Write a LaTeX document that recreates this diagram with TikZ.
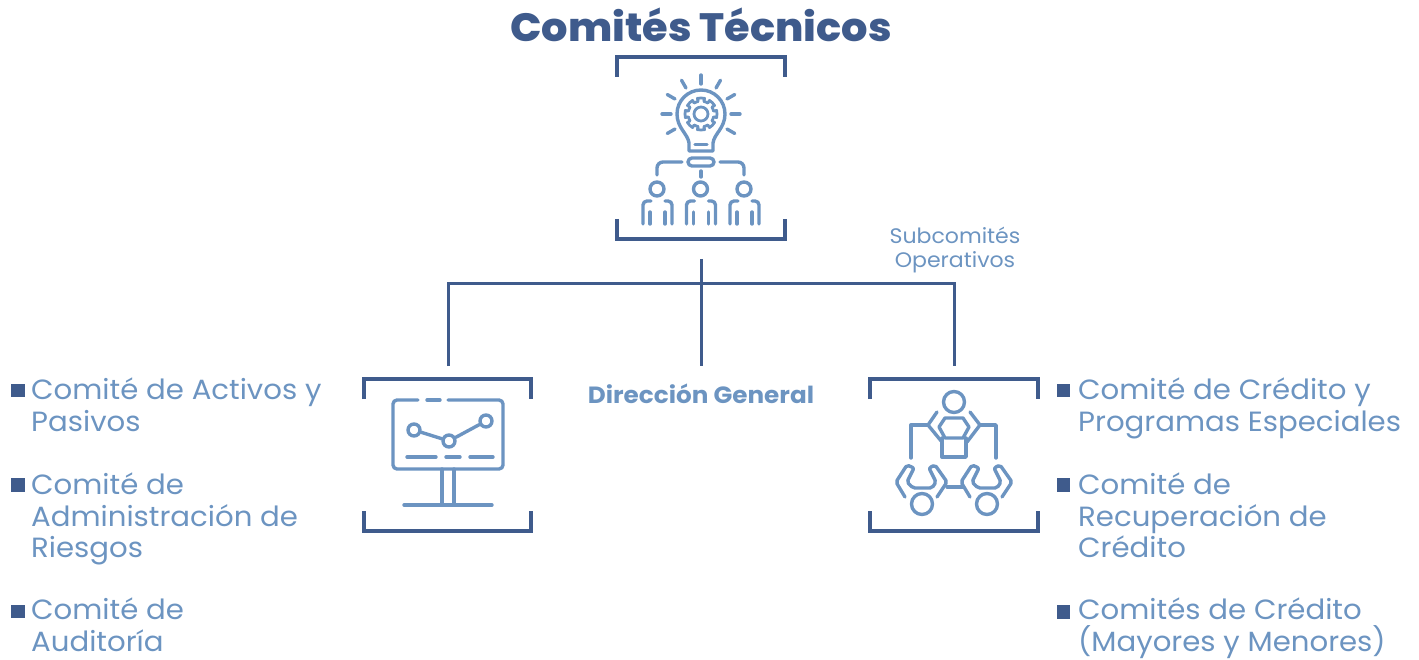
\documentclass[tikz,border=0pt]{standalone}
\usepackage{fontspec}
\setmainfont{Poppins}[FakeStretch = 1.05]
\newfontfamily\titlefont{Poppins ExtraBold}[FakeStretch = 1.05]
\definecolor{navy}{HTML}{3F5B8C}
\definecolor{steel}{HTML}{6C94C1}
\tikzset{
	frame/.style = {navy, line width = 3.6pt},
	link/.style = {navy, line width = 3pt},
	icon/.style = {steel, line width = 3.4pt, line cap = round, line join = round},
	bullet/.style = {fill = navy, minimum size = 13.5pt, inner sep = 0pt},
	item/.style = {steel, anchor = north west, inner sep = 0pt, align = left, font = \fontsize{27.8}{31.7}\selectfont},
}
\begin{document}
\begin{tikzpicture}[x = 1pt, y = -1pt]
	\useasboundingbox (0, 0) rectangle (1419, 660);

	\node[navy, inner sep = 0pt, font = \fontsize{39.5}{42}\titlefont] (title) at (701, 25) {Comités Técnicos};
	\node[steel, inner sep = 0pt, align = center, font = \fontsize{21}{24}\selectfont] (sub) at (955, 250) {Subcomités\\Operativos};
	\node[steel, inner sep = 0pt, font = \fontsize{23.5}{26}\selectfont\bfseries] (dir) at (701, 394) {Dirección General};

	% organigram
	\coordinate (top) at (701, 259);
	\coordinate (bus) at (701, 284);
	\coordinate (mid) at (701, 366);
	\coordinate (left) at (448, 366);
	\coordinate (right) at (954, 366);
	\draw[link] (top) -- (mid);
	\draw[link] (left) |- (bus) -| (right);

	% frames
	\foreach \a/\b/\t/\u in {617/785/57/239, 364/531/379/531, 870/1038/379/531} {
		\draw[frame] (\a, \t + 20) -- (\a, \t) -- (\b, \t) -- (\b, \t + 20);
		\draw[frame] (\a, \u - 20) -- (\a, \u) -- (\b, \u) -- (\b, \u - 20);
	}

	% bulb
	\draw[icon] (689, 151) -- (689, 143) .. controls (688, 134) and (677, 128) .. (677, 114)
		arc [start angle = 180, end angle = 360, radius = 24]
		.. controls (725, 128) and (714, 134) .. (713, 143) -- (713, 151) -- cycle;
	\draw[icon] (695, 144.5) -- (707, 144.5);
	\foreach \r in {30, 60, ..., 150, 0, 180, 210, 330} {
		\draw[icon] (701, 114) ++(-\r : 30) -- ++(-\r : 9);
	}
	\draw[icon, line width = 2.8pt] (701, 114) circle [radius = 7];
	\foreach \r in {0, 45, ..., 315} {
		\draw[icon, line width = 2.8pt] (701, 114) ++(\r - 13 : 13) -- ++(\r - 13 : 3) arc [start angle = \r - 13, end angle = \r + 13, radius = 16] -- ++(\r + 193 : 3);
		\draw[icon, line width = 2.8pt] (701, 114) ++(\r + 13 : 13) arc [start angle = \r + 13, end angle = \r + 32, radius = 13];
	}
	\draw[icon, rounded corners = 4pt] (688, 158) rectangle (714, 166);
	\draw[icon, rounded corners = 6pt] (682, 162) -- (657, 162) -- (657, 175);
	\draw[icon, rounded corners = 6pt] (720, 162) -- (744, 162) -- (744, 175);
	\draw[icon] (701, 171) -- (701, 177);
	\foreach \x in {0, 43.5, 87} {
		\draw[icon] (657 + \x, 189) circle [radius = 7];
		\draw[icon, rounded corners = 4pt] (643 + \x, 224) -- (643 + \x, 201) -- (651 + \x, 201);
		\draw[icon, rounded corners = 4pt] (665 + \x, 201) -- (672 + \x, 201) -- (672 + \x, 224);
		\draw[icon] (650 + \x, 212) -- (650 + \x, 224);
		\draw[icon] (665 + \x, 212) -- (665 + \x, 224);
	}

	% screen
	\draw[icon, rounded corners = 4pt] (418, 400) -- (393, 400) -- (393, 469) -- (503, 469) -- (503, 400) -- (448, 400);
	\draw[icon] (427, 400) -- (440, 400);
	\foreach \a/\b in {407/436, 446/460, 470/493} {
		\draw[icon] (\a, 457) -- (\b, 457);
	}
	\node[icon, draw, circle, minimum size = 12pt, inner sep = 0pt] (p1) at (414, 430) {};
	\node[icon, draw, circle, minimum size = 12pt, inner sep = 0pt] (p2) at (449, 441) {};
	\node[icon, draw, circle, minimum size = 12pt, inner sep = 0pt] (p3) at (486, 421) {};
	\draw[icon] (p1) -- (p2);
	\draw[icon] (p2) -- (p3);
	\draw[icon] (442, 469) -- (442, 505);
	\draw[icon] (454, 469) -- (454, 505);
	\draw[icon] (404, 505) -- (492, 505);

	% meeting
	\draw[icon] (954, 402) circle [radius = 10.5];
	\draw[icon] (945, 418) -- (963, 418) -- (969, 427) -- (963, 438) -- (945, 438) -- (939, 427) -- cycle;
	\draw[icon] (942, 438) -- (942, 457) -- (966, 457) -- (966, 438);
	\draw[icon] (937, 412) -- (928, 425) -- (942, 442);
	\draw[icon] (970, 412) -- (980, 425) -- (967, 442);
	\draw[icon] (928, 425) -- (911, 425) -- (911, 458);
	\draw[icon] (980, 425) -- (996, 425) -- (996, 458);
	\foreach \x in {0, 65} {
		\draw[icon] (922 + \x, 504) circle [radius = 10.5];
		\draw[icon, rounded corners = 2pt] (905 + \x, 497) -- (896 + \x, 482) -- (907 + \x, 465) -- (914 + \x, 468) -- (907 + \x, 482) -- (913 + \x, 488) -- (932 + \x, 488) -- (936 + \x, 482) -- (929 + \x, 468) -- (935 + \x, 465) -- (947 + \x, 482) -- (937 + \x, 497);
	}
	\draw[icon] (947, 487) -- (963, 487);

	% lists
	\foreach \n/\x/\y in {a/18/390.5, b/18/485, c/18/611.5, d/1063.5/390.5, e/1063.5/485, f/1063.5/612} {
		\node[bullet] (b\n) at (\x, \y) {};
	}
	\node[item] (ia) at (31, 377.5) {Comité de Activos y\\Pasivos};
	\node[item] (ib) at (31, 472.5) {Comité de\\Administración de\\Riesgos};
	\node[item] (ic) at (31, 598) {Comité de\\Auditoría};
	\node[item] (id) at (1078, 377.5) {Comité de Crédito y\\Programas Especiales};
	\node[item] (ie) at (1078, 472.5) {Comité de\\Recuperación de\\Crédito};
	\node[item] (if) at (1078, 597.5) {Comités de Crédito\\(Mayores y Menores)};
\end{tikzpicture}
\end{document}
